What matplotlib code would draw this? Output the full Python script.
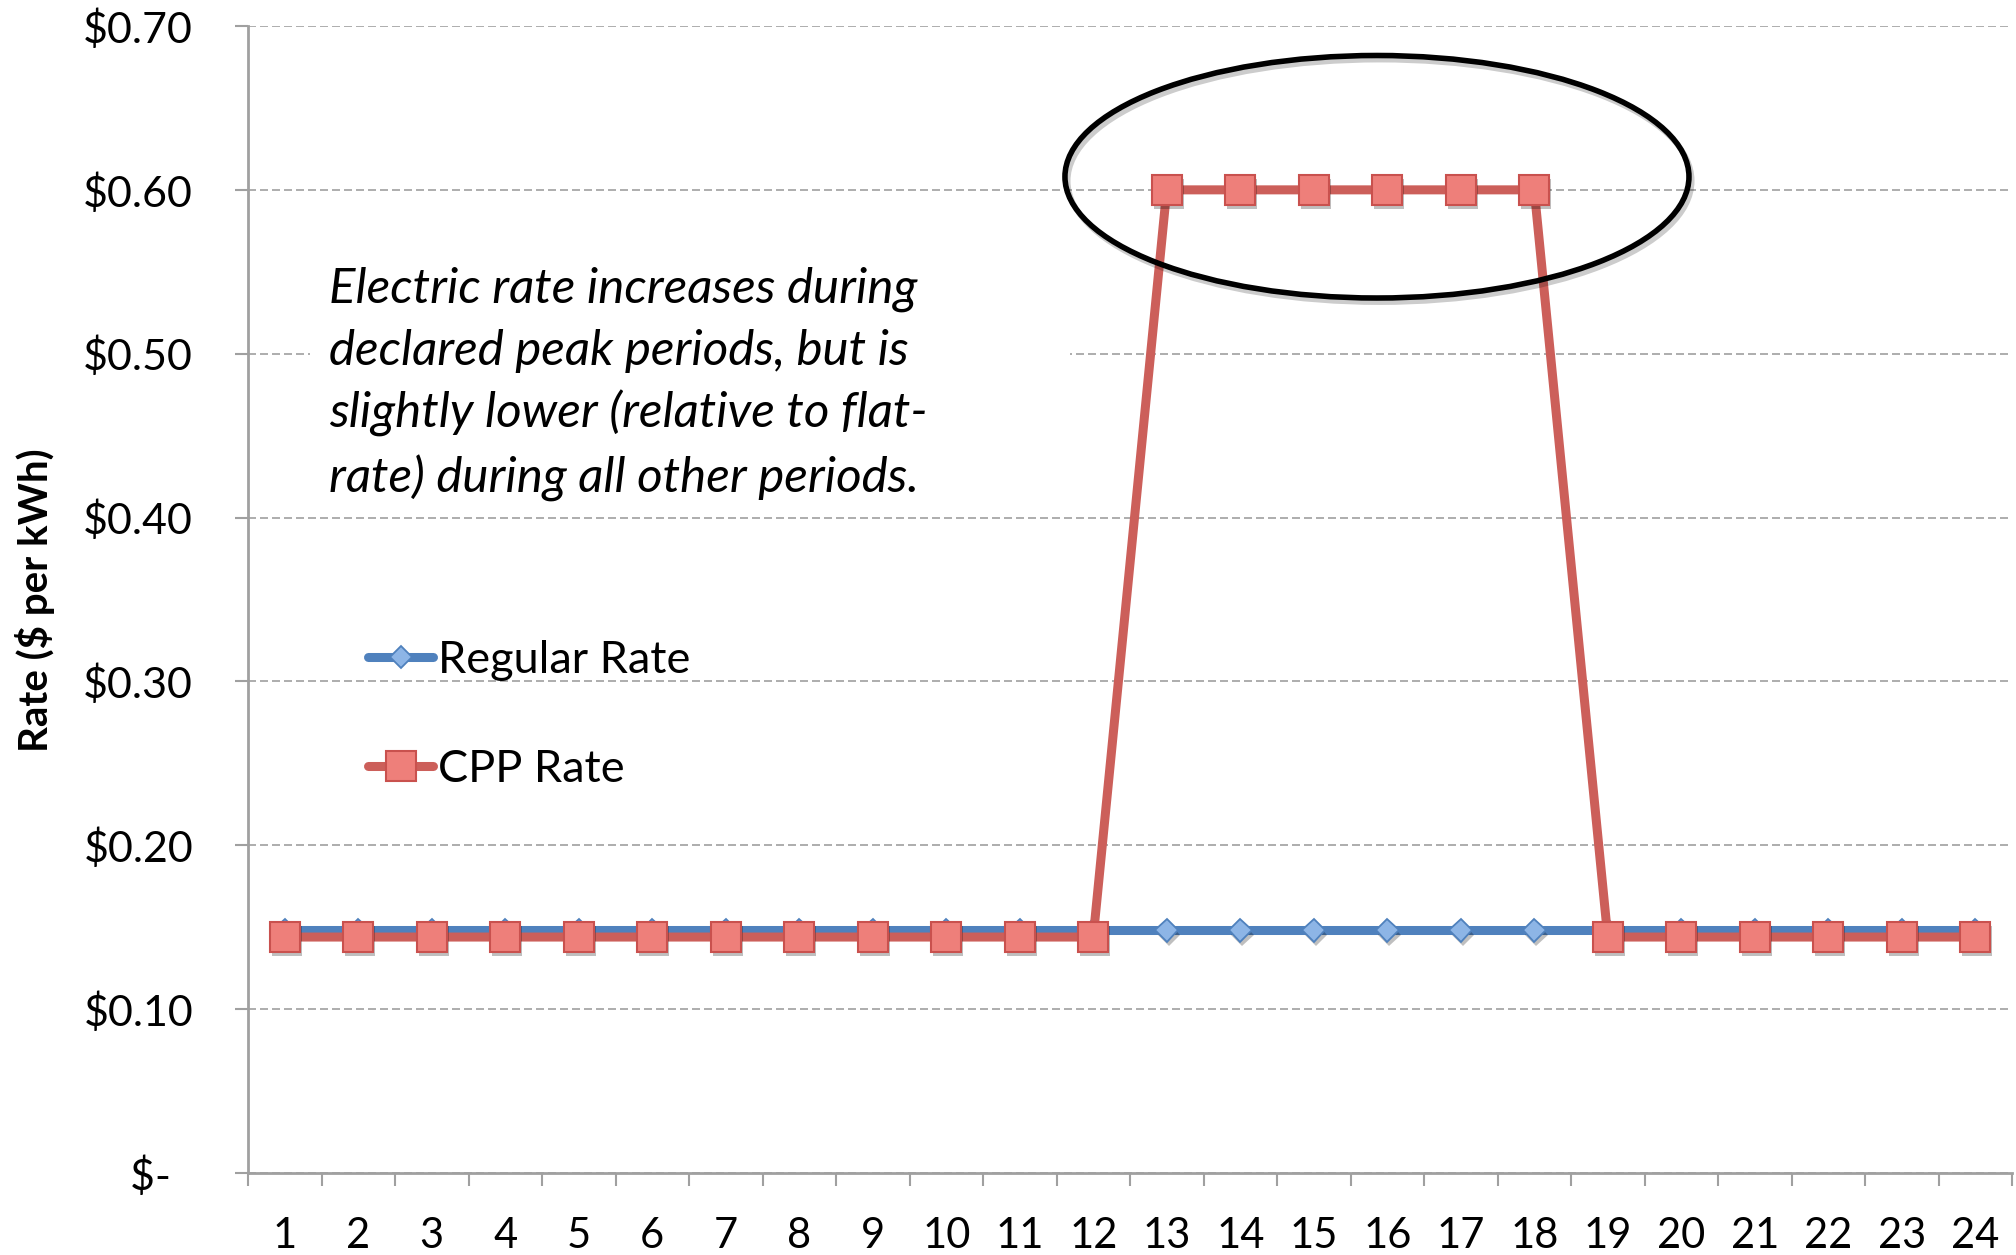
import matplotlib
matplotlib.use("Agg")
import matplotlib.pyplot as plt
import matplotlib.patheffects as pe
from matplotlib.patches import Ellipse, Rectangle

hours = [1, 2, 3, 4, 5, 6, 7, 8, 9, 10, 11, 12,
         13, 14, 15, 16, 17, 18, 19, 20, 21, 22, 23, 24]
regular_rate = [0.148, 0.148, 0.148, 0.148, 0.148, 0.148, 0.148, 0.148,
                0.148, 0.148, 0.148, 0.148, 0.148, 0.148, 0.148, 0.148,
                0.148, 0.148, 0.148, 0.148, 0.148, 0.148, 0.148, 0.148]
cpp_rate = [0.144, 0.144, 0.144, 0.144, 0.144, 0.144, 0.144, 0.144,
            0.144, 0.144, 0.144, 0.144, 0.60, 0.60, 0.60, 0.60,
            0.60, 0.60, 0.144, 0.144, 0.144, 0.144, 0.144, 0.144]
y_ticks = [0.0, 0.1, 0.2, 0.3, 0.4, 0.5, 0.6, 0.7]
y_labels = ["$-  ", "$0.10", "$0.20", "$0.30", "$0.40", "$0.50", "$0.60", "$0.70"]
note = ("Electric rate increases during\n"
        "declared peak periods, but is\n"
        "slightly lower (relative to flat-\n"
        "rate) during all other periods.")

plt.rcParams['font.family'] = ['Lato', 'DejaVu Sans']

W, H = 2016, 1255
fig = plt.figure(figsize=(W / 100, H / 100), dpi=100)
ax = fig.add_axes([248 / W, 1 - 1173 / H, (2012 - 248) / W, (1173 - 26) / H])

grey = '#A0A0A0'
blue = '#4F81BD'
red = '#CC5F5A'
shadow = [pe.SimplePatchShadow(offset=(1.5, -3), shadow_rgbFace='k', alpha=0.25), pe.Normal()]

ax.plot(hours, regular_rate, color=blue, lw=6.5, solid_capstyle='round', zorder=3)
ax.plot(hours, regular_rate, ls='none', marker='D', ms=11.5, mfc='#8DB5E6',
        mec=blue, mew=1.3, zorder=4, path_effects=shadow)
ax.plot(hours, cpp_rate, color=red, lw=6.5, solid_capstyle='round', zorder=5)
ax.plot(hours, cpp_rate, ls='none', marker='s', ms=21.5, mfc='#EE7F7A',
        mec='#C9514E', mew=1.5, zorder=6, path_effects=shadow)

# legend handles
h1, = ax.plot([], [], color=blue, lw=6.5, solid_capstyle='round', marker='D',
              ms=11.5, mfc='#8DB5E6', mec=blue, mew=1.3, label='Regular Rate')
h2, = ax.plot([], [], color=red, lw=6.5, solid_capstyle='round', marker='s',
              ms=21.5, mfc='#EE7F7A', mec='#C9514E', mew=1.5, label='CPP Rate')
ax.legend(handles=[h1, h2], loc='upper left', bbox_to_anchor=(368 / W, 1 - 640 / H),
          bbox_transform=fig.transFigure, frameon=False, fontsize=32.5,
          handlelength=1.45, handletextpad=0.1, labelspacing=1.5, borderpad=0,
          borderaxespad=0)

ax.set_xlim(0.5, 24.5)
ax.set_ylim(0, 0.70)
ax.set_xticks(hours)
ax.set_xticklabels([str(h) for h in hours])
ax.set_xticks([h - 0.5 for h in hours] + [24.5], minor=True)
ax.tick_params(axis='x', which='major', length=0, pad=32, labelsize=30)
ax.tick_params(axis='x', which='minor', length=9.5, width=1.5, color=grey)
ax.set_yticks(y_ticks)
ax.set_yticklabels(y_labels)
ax.tick_params(axis='y', length=9.5, width=1.5, color=grey, pad=30, labelsize=31)

for s in ['top', 'right']:
    ax.spines[s].set_visible(False)
for s in ['left', 'bottom']:
    ax.spines[s].set_color(grey)
    ax.spines[s].set_linewidth(2)

ax.yaxis.grid(True, color=grey, lw=1.2, ls=(0, (4.8, 2.4)), zorder=1)
ax.set_axisbelow(True)

# white box behind the note
ax.add_patch(Rectangle((310 / W, 1 - 510 / H), (1070 - 310) / W, (510 - 215) / H,
                       transform=fig.transFigure, facecolor='white', edgecolor='none',
                       zorder=1.8))
fig.text(329 / W, 1 - 267 / H, note, style='italic', fontsize=35.5, va='top', ha='left',
         linespacing=1.46)

ax.add_patch(Ellipse((15.86, 0.608), 8.49, 0.148, fill=False, ec='black', lw=4,
                     zorder=7, clip_on=False,
                     path_effects=[pe.SimpleLineShadow(offset=(2, -3), shadow_color='k',
                                                       alpha=0.2), pe.Normal()]))

fig.text(35 / W, 1 - 600 / H, 'Rate ($ per kWh)', rotation=90, fontsize=29,
         fontweight='bold', ha='center', va='center')

fig.savefig('out.png', dpi=100)
